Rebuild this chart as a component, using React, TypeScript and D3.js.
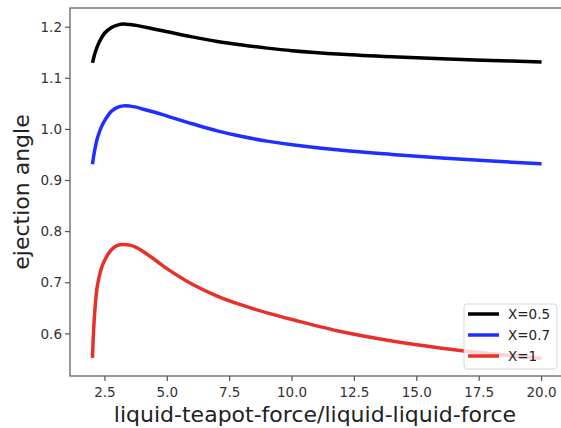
import * as d3 from 'd3';

// shared x grid (force ratio)
const ratio = [2.0, 2.05, 2.1, 2.2, 2.35, 2.5, 2.75, 3.0, 3.25, 3.5, 3.75, 4, 4.5, 5, 6, 7, 8, 9, 10, 12, 14, 16, 18, 20];

const angleX05 = [1.13, 1.14, 1.149, 1.163, 1.178, 1.189, 1.199, 1.204, 1.206, 1.205, 1.2035, 1.201, 1.196, 1.191, 1.181, 1.172, 1.165, 1.159, 1.154, 1.147, 1.142, 1.138, 1.135, 1.132];
const angleX07 = [0.932, 0.948, 0.962, 0.983, 1.004, 1.018, 1.035, 1.043, 1.046, 1.0455, 1.0435, 1.04, 1.0335, 1.026, 1.011, 0.997, 0.986, 0.977, 0.97, 0.959, 0.951, 0.944, 0.938, 0.933];
const angleX1 = [0.553, 0.61, 0.648, 0.695, 0.727, 0.745, 0.764, 0.773, 0.775, 0.7735, 0.769, 0.762, 0.745, 0.727, 0.697, 0.674, 0.656, 0.641, 0.628, 0.604, 0.586, 0.572, 0.561, 0.552];

const seriesNames = ['X=0.5', 'X=0.7', 'X=1'];
const seriesColors = ['#000000', '#1f2fff', '#e8302a'];
const seriesValues = [angleX05, angleX07, angleX1];

const xTicks = [2.5, 5.0, 7.5, 10.0, 12.5, 15.0, 17.5, 20.0];
const yTicks = [0.6, 0.7, 0.8, 0.9, 1.0, 1.1, 1.2];

const W = 561;
const H = 428;
const margin = { top: 8, right: -3, bottom: 52, left: 70 };

export default function App() {
  const x = d3.scaleLinear().domain([1.1, 20.9]).range([margin.left, W - margin.right]);
  const y = d3.scaleLinear().domain([0.5175, 1.2375]).range([H - margin.bottom, margin.top]);
  const line = d3.line<[number, number]>()
    .x(d => x(d[0]))
    .y(d => y(d[1]))
    .curve(d3.curveCatmullRom.alpha(0.5));

  const left = margin.left;
  const right = W - margin.right;
  const top = margin.top;
  const bottom = H - margin.bottom;
  const font = 'DejaVu Sans, sans-serif';

  // legend, lower right
  const lgW = 93, lgH = 65;
  const lgX = right - 7 - lgW;
  const lgY = bottom - 7 - lgH;

  return (
    <svg width={W} height={H} style={{ position: 'absolute', left: 0, top: 0, background: '#fff' }}>
      {seriesValues.map((vals, i) => (
        <path key={i} d={line(ratio.map((r, j) => [r, vals[j]] as [number, number])) || ''}
          fill="none" stroke={seriesColors[i]} strokeWidth={3.5} strokeLinejoin="round" />
      ))}

      <rect x={left} y={top} width={right - left} height={bottom - top} fill="none" stroke="#555" strokeWidth={1.2} />

      {xTicks.map(t => (
        <g key={t}>
          <line x1={x(t)} x2={x(t)} y1={bottom} y2={bottom + 5} stroke="#555" strokeWidth={1.2} />
          <text x={x(t)} y={bottom + 21} textAnchor="middle" fontFamily={font} fontSize={13.5} fill="#333">{t.toFixed(1)}</text>
        </g>
      ))}
      {yTicks.map(t => (
        <g key={t}>
          <line x1={left - 5} x2={left} y1={y(t)} y2={y(t)} stroke="#555" strokeWidth={1.2} />
          <text x={left - 8} y={y(t)} dy="0.35em" textAnchor="end" fontFamily={font} fontSize={13.5} fill="#333">{t.toFixed(1)}</text>
        </g>
      ))}

      <text x={(left + 564) / 2 - 2} y={422} textAnchor="middle" fontFamily={font} fontSize={22} fill="#222">
        liquid-teapot-force/liquid-liquid-force
      </text>
      <text transform={`translate(29,${(top + bottom) / 2}) rotate(-90)`} textAnchor="middle" fontFamily={font} fontSize={22} fill="#222">
        ejection angle
      </text>

      <g>
        <rect x={lgX} y={lgY} width={lgW} height={lgH} rx={3} fill="#fff" fillOpacity={0.8} stroke="#ccc" strokeOpacity={0.8} />
        {seriesNames.map((name, i) => (
          <g key={name}>
            <line x1={lgX + 4} x2={lgX + 35} y1={lgY + 10 + i * 21} y2={lgY + 10 + i * 21} stroke={seriesColors[i]} strokeWidth={3.5} />
            <text x={lgX + 44} y={lgY + 10 + i * 21} dy="0.35em" fontFamily={font} fontSize={13.5} fill="#222">{name}</text>
          </g>
        ))}
      </g>
    </svg>
  );
}
